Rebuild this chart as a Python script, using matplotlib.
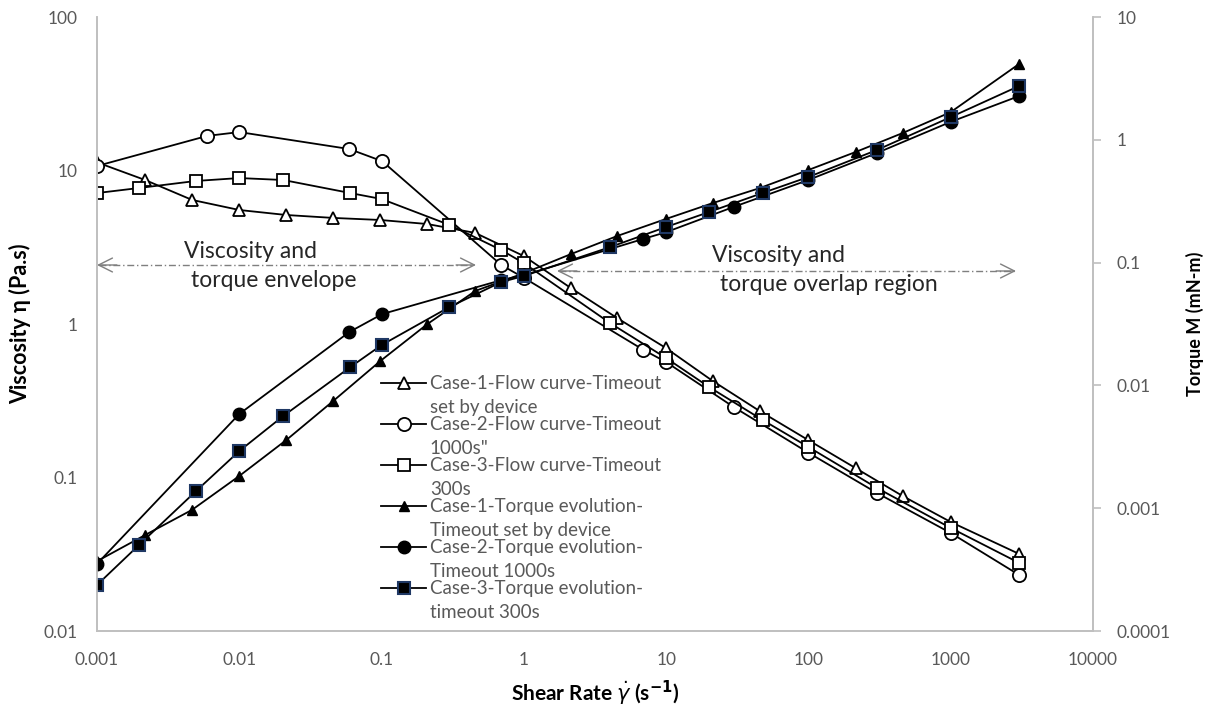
import matplotlib
matplotlib.use("Agg")
import matplotlib.pyplot as plt
from matplotlib.legend_handler import HandlerLine2D
from matplotlib.transforms import Affine2D

plt.rcParams['font.family'] = ['Lato', 'DejaVu Sans']

# ---------------- data ----------------
# Case-1 (flow curve & torque share shear rates)
c1_rate = [0.001, 0.00218, 0.00466, 0.01, 0.0214, 0.0457, 0.098, 0.21, 0.456, 1.0,
           2.13, 4.55, 9.9, 21.2, 45.4, 100, 215, 460, 1000, 3020]
c1_visc = [11.3, 8.67, 6.43, 5.53, 5.13, 4.91, 4.76, 4.48, 3.92, 2.77,
           1.72, 1.09, 0.70, 0.426, 0.271, 0.175, 0.115, 0.0757, 0.0513, 0.0318]
c1_torque = [0.00037, 0.000605, 0.00097, 0.00183, 0.00359, 0.00746, 0.0158, 0.0316, 0.0588, 0.082,
             0.117, 0.165, 0.226, 0.305, 0.404, 0.568, 0.796, 1.136, 1.68, 4.14]

# Case-2
c2_rate_visc = [0.001, 0.00594, 0.01, 0.0593, 0.101, 0.695, 1.0, 6.93, 10, 29.8, 100, 303, 1000, 3020]
c2_visc = [10.7, 16.8, 17.8, 13.8, 11.5, 2.42, 2.0, 0.678, 0.565, 0.288, 0.145, 0.0793, 0.0435, 0.0232]
c2_rate_torque = [0.001, 0.01, 0.0593, 0.101, 0.695, 1.0, 6.93, 10, 29.8, 100, 303, 1000, 3020]
c2_torque = [0.000352, 0.00585, 0.0272, 0.0381, 0.072, 0.079, 0.156, 0.177, 0.284, 0.471, 0.781, 1.40, 2.27]

# Case-3
c3_rate = [0.001, 0.00197, 0.00497, 0.01, 0.0204, 0.0603, 0.1, 0.30, 0.695, 1.0,
           4.06, 10, 20, 47.6, 100, 303, 1000, 3020]
c3_visc = [7.13, 7.69, 8.55, 8.93, 8.67, 7.13, 6.52, 4.42, 3.03, 2.49,
           1.01, 0.60, 0.389, 0.237, 0.158, 0.0855, 0.0469, 0.0278]
c3_torque = [0.000237, 0.000501, 0.00138, 0.00292, 0.00564, 0.0141, 0.0213, 0.0435, 0.0695, 0.0778,
             0.134, 0.195, 0.258, 0.369, 0.498, 0.826, 1.53, 2.74]

labels = ["Case-1-Flow curve-Timeout\nset by device",
          "Case-2-Flow curve-Timeout\n1000s\"",
          "Case-3-Flow curve-Timeout\n300s",
          "Case-1-Torque evolution-\nTimeout set by device",
          "Case-2-Torque evolution-\nTimeout 1000s",
          "Case-3-Torque evolution-\ntimeout 300s"]

x_ticks = [0.001, 0.01, 0.1, 1, 10, 100, 1000, 10000]
x_ticklabels = ["0.001", "0.01", "0.1", "1", "10", "100", "1000", "10000"]
yl_ticks = [0.01, 0.1, 1, 10, 100]
yl_ticklabels = ["0.01", "0.1", "1", "10", "100"]
yr_ticks = [0.0001, 0.001, 0.01, 0.1, 1, 10]
yr_ticklabels = ["0.0001", "0.001", "0.01", "0.1", "1", "10"]


class HandlerFirstLine(HandlerLine2D):
    """Place the legend handle level with the first text line."""
    def __init__(self, shift=9.0, **kw):
        super().__init__(**kw)
        self.shift = shift

    def create_artists(self, legend, orig_handle, xdescent, ydescent,
                       width, height, fontsize, trans):
        t = Affine2D().translate(0, self.shift) + trans
        return super().create_artists(legend, orig_handle, xdescent, ydescent,
                                      width, height, fontsize, t)


# ---------------- figure ----------------
fig = plt.figure(figsize=(12.17, 7.08), dpi=100)
ax = fig.add_axes([97/1217, 1-631/708, (1093-97)/1217, (631-17)/708])
ax2 = ax.twinx()

grey = '#bfbfbf'
tick_col = '#595959'
lw = 1.3

for a in (ax, ax2):
    a.set_xscale('log')
    a.set_yscale('log')
    a.set_xlim(0.001, 10000)
    for s in a.spines.values():
        s.set_color(grey)
        s.set_linewidth(1.2)
    a.spines['top'].set_visible(False)
    a.patch.set_visible(False)

ax.set_ylim(0.01, 100)
ax2.set_ylim(0.0001, 10)

h1, = ax.plot(c1_rate, c1_visc, color='black', lw=lw, marker='^', ms=9,
              mfc='white', mec='black', mew=1.3)
h2, = ax.plot(c2_rate_visc, c2_visc, color='black', lw=lw, marker='o', ms=9.5,
              mfc='white', mec='black', mew=1.3)
h3, = ax.plot(c3_rate, c3_visc, color='black', lw=lw, marker='s', ms=8.5,
              mfc='white', mec='black', mew=1.3)
h4, = ax2.plot(c1_rate, c1_torque, color='black', lw=lw, marker='^', ms=6.5,
               mfc='black', mec='black')
h5, = ax2.plot(c2_rate_torque, c2_torque, color='black', lw=lw, marker='o', ms=9,
               mfc='black', mec='black')
h6, = ax2.plot(c3_rate, c3_torque, color='black', lw=lw, marker='s', ms=8.5,
               mfc='black', mec='#1f3864', mew=1.5)

# ticks
ax.set_xticks(x_ticks)
ax.set_xticklabels(x_ticklabels)
ax.xaxis.set_minor_locator(matplotlib.ticker.NullLocator())
ax.set_yticks(yl_ticks)
ax.set_yticklabels(yl_ticklabels)
ax.yaxis.set_minor_locator(matplotlib.ticker.NullLocator())
ax2.set_yticks(yr_ticks)
ax2.set_yticklabels(yr_ticklabels)
ax2.yaxis.set_minor_locator(matplotlib.ticker.NullLocator())
ax2.xaxis.set_minor_locator(matplotlib.ticker.NullLocator())

ax.tick_params(axis='x', length=0, pad=15, labelsize=12.5, labelcolor=tick_col)
ax.tick_params(axis='y', length=0, pad=14, labelsize=12.5, labelcolor=tick_col)
ax2.tick_params(axis='y', length=6, width=1.2, color=grey, pad=11, labelsize=12.5, labelcolor=tick_col)

ax.set_xlabel('Shear Rate $\\dot{\\mathit{\\gamma}}$ (s$^{\\mathbf{-1}}$)', fontsize=15, fontweight='bold',
              labelpad=8)
ax.set_ylabel('Viscosity η (Pa.s)', fontsize=15.5, fontweight='bold', labelpad=9)
ax2.set_ylabel('Torque M (mN-m)', fontsize=13, fontweight='bold', labelpad=11)

# annotation arrows (axes fraction)
def fx(px):
    return (px - 97) / 996.0

def fy(py):
    return (631 - py) / 614.0

arr_col = '#7f7f7f'
for (x0, x1, yy) in [(97, 476, 265), (557, 1016, 271)]:
    ax.plot([fx(x0) + 0.002, fx(x1) - 0.002], [fy(yy), fy(yy)], transform=ax.transAxes,
            color=arr_col, lw=1.0, ls=(0, (5, 2, 1, 2)), clip_on=False, zorder=1)
    ax.annotate('', xy=(fx(x0), fy(yy)), xytext=(fx(x0) + 0.02, fy(yy)),
                xycoords='axes fraction', textcoords='axes fraction',
                arrowprops=dict(arrowstyle='->,head_length=1.0,head_width=0.5',
                                color=arr_col, lw=1.0, shrinkA=0, shrinkB=0))
    ax.annotate('', xy=(fx(x1), fy(yy)), xytext=(fx(x1) - 0.02, fy(yy)),
                xycoords='axes fraction', textcoords='axes fraction',
                arrowprops=dict(arrowstyle='->,head_length=1.0,head_width=0.5',
                                color=arr_col, lw=1.0, shrinkA=0, shrinkB=0))

txt_col = '#262626'
afs = 16.5
ax.text(fx(251), fy(251), 'Viscosity and', transform=ax.transAxes, ha='center', va='center',
        fontsize=afs, color=txt_col)
ax.text(fx(274), fy(280), 'torque envelope', transform=ax.transAxes, ha='center', va='center',
        fontsize=afs, color=txt_col)
ax.text(fx(778), fy(255), 'Viscosity and', transform=ax.transAxes, ha='center', va='center',
        fontsize=afs, color=txt_col)
ax.text(fx(829), fy(284), 'torque overlap region', transform=ax.transAxes, ha='center', va='center',
        fontsize=afs, color=txt_col)

handles = [h1, h2, h3, h4, h5, h6]
leg = ax2.legend(handles, labels, loc='upper left',
                 bbox_to_anchor=(fx(381), fy(375)), frameon=False, fontsize=13.5,
                 handlelength=2.4, handletextpad=0.2, labelspacing=0.0,
                 borderaxespad=0, borderpad=0,
                 handler_map={h: HandlerFirstLine(shift=9.0) for h in handles})
for t in leg.get_texts():
    t.set_color(tick_col)
    t.set_linespacing(1.5)

fig.savefig('out.png', dpi=100)
